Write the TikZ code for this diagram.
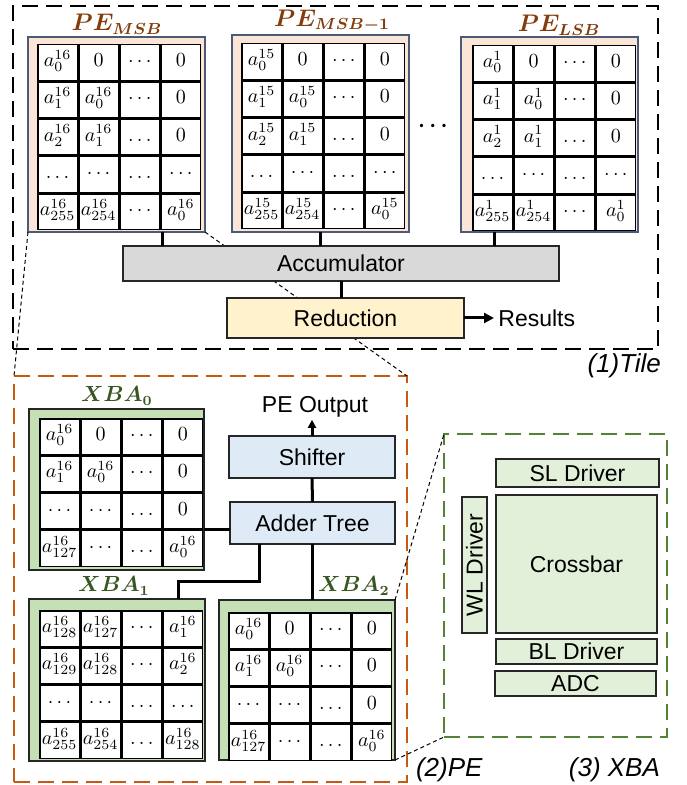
\documentclass[tikz,border=0pt]{standalone}
\usepackage{fontspec}
\setmainfont{Liberation Sans}
\usepackage{amsmath}
\usepackage{bm}
\usetikzlibrary{matrix,fit,calc,arrows.meta}

\definecolor{peFill}{HTML}{FBE5D6}
\definecolor{peLine}{HTML}{4A5A78}
\definecolor{xbaFill}{HTML}{C5E0B4}
\definecolor{accFill}{HTML}{D9D9D9}
\definecolor{redFill}{HTML}{FFF2CC}
\definecolor{blueFill}{HTML}{DEEBF7}
\definecolor{compFill}{HTML}{E2F0D9}
\definecolor{peOrange}{HTML}{C55A11}
\definecolor{xbaGreen}{HTML}{548235}
\definecolor{titleBrown}{HTML}{843C0C}
\definecolor{titleGreen}{HTML}{385723}

\begin{document}
\begin{tikzpicture}[x=0.5pt,y=-0.5pt,
    gridcell/.style={draw,line width=0.75pt,fill=white,minimum width=19.8pt,minimum height=17.9pt,
      text height=6pt,text depth=2pt,inner sep=0pt,outer sep=0pt,anchor=center,
      font=\fontsize{9.8}{11}\selectfont},
    cellgrid/.style={matrix of math nodes,nodes={gridcell},column sep=0pt,row sep=0pt,
      inner sep=0pt,outer sep=0pt,anchor=north west},
    pebox/.style={draw=peLine,line width=0.8pt,fill=peFill,inner sep=0pt,outer sep=0pt},
    xbabox/.style={draw=black!85,line width=1pt,fill=xbaFill,inner sep=0pt,outer sep=0pt},
    unitbox/.style={draw=black!85,line width=0.8pt,inner sep=0pt,outer sep=0pt,
      font=\fontsize{11.5}{12}\selectfont},
    zoneframe/.style={line width=1.2pt,dash pattern=on 8pt off 4pt,inner sep=0pt,outer sep=0pt},
    zoomline/.style={line width=0.5pt,dash pattern=on 2pt off 1.5pt},
    conn/.style={line width=1.5pt},
    petitle/.style={text=titleBrown,font=\fontsize{12}{13}\selectfont},
    xbatitle/.style={text=titleGreen,font=\fontsize{10.5}{12}\selectfont},
    zonecaption/.style={font=\fontsize{13}{14}\selectfont\itshape}]

    \useasboundingbox (0,0) rectangle (686,785);

    % Zones
    \node (tile) [zoneframe,draw=black,fit={(13,6) (658,349)}] {};
    \node (pe zone) [zoneframe,draw=peOrange,fit={(14,376) (407,782)}] {};
    \node (xba zone) [zoneframe,draw=xbaGreen,fit={(444,434) (667,737)}] {};

    % PE arrays of the tile
    \node (msb box) [pebox,fit={(28,37) (205,232)}] {};
    \matrix (msb) [cellgrid] at (37,44) {
      a_0^{16} & 0 & \cdots & 0 \\
      a_1^{16} & a_0^{16} & \cdots & 0 \\
      a_2^{16} & a_1^{16} & \ldots & 0 \\
      \ldots & \cdots & \ldots & \cdots \\
      a_{255}^{16} & a_{254}^{16} & \cdots & a_0^{16} \\
    };
    \node (msb title) [petitle] at (117,24) {$\bm{PE_{MSB}}$};

    \node (msb1 box) [pebox,fit={(232,35) (409,232)}] {};
    \matrix (msb1) [cellgrid] at (241,43) {
      a_0^{15} & 0 & \cdots & 0 \\
      a_1^{15} & a_0^{15} & \cdots & 0 \\
      a_2^{15} & a_1^{15} & \ldots & 0 \\
      \ldots & \cdots & \ldots & \cdots \\
      a_{255}^{15} & a_{254}^{15} & \cdots & a_0^{15} \\
    };
    \node (msb1 title) [petitle] at (332,21) {$\bm{PE_{MSB-1}}$};

    \node (lsb box) [pebox,fit={(461,37) (638,232)}] {};
    \matrix (lsb) [cellgrid] at (472,45) {
      a_0^{1} & 0 & \cdots & 0 \\
      a_1^{1} & a_0^{1} & \cdots & 0 \\
      a_2^{1} & a_1^{1} & \ldots & 0 \\
      \ldots & \cdots & \ldots & \cdots \\
      a_{255}^{1} & a_{254}^{1} & \cdots & a_0^{1} \\
    };
    \node (lsb title) [petitle] at (559,25) {$\bm{PE_{LSB}}$};

    \node (pe dots) [font=\fontsize{11}{12}\selectfont] at (435,126) {$\bm{\cdots}$};

    % Crossbar arrays of the PE
    \node (xba0 box) [xbabox,fit={(29,409) (204,570)}] {};
    \matrix (xba0) [cellgrid] at (39,418) {
      a_0^{16} & 0 & \cdots & 0 \\
      a_1^{16} & a_0^{16} & \cdots & 0 \\
      \cdots & \cdots & \ldots & 0 \\
      a_{127}^{16} & \cdots & \ldots & a_0^{16} \\
    };
    \node (xba0 title) [xbatitle] at (117,396) {$\bm{XBA_0}$};

    \node (xba1 box) [xbabox,fit={(29,599) (205,761)}] {};
    \matrix (xba1) [cellgrid] at (39,610) {
      a_{128}^{16} & a_{127}^{16} & \cdots & a_1^{16} \\
      a_{129}^{16} & a_{128}^{16} & \cdots & a_2^{16} \\
      \cdots & \cdots & \ldots & \ldots \\
      a_{255}^{16} & a_{254}^{16} & \ldots & a_{128}^{16} \\
    };
    \node (xba1 title) [xbatitle] at (114,586) {$\bm{XBA_1}$};

    \node (xba2 box) [xbabox,fit={(219,600) (395,760)}] {};
    \matrix (xba2) [cellgrid] at (228,612) {
      a_0^{16} & 0 & \cdots & 0 \\
      a_1^{16} & a_0^{16} & \cdots & 0 \\
      \cdots & \cdots & \ldots & 0 \\
      a_{127}^{16} & \cdots & \ldots & a_0^{16} \\
    };
    \node (xba2 title) [xbatitle] at (354,586) {$\bm{XBA_2}$};

    % Zoom lines (behind the blocks)
    \draw[zoomline] (msb box.south west) -- (pe zone.north west);
    \draw[zoomline] (msb box.south east) -- (pe zone.north east);
    \draw[zoomline] (xba2 box.north east) -- (xba zone.north west);
    \draw[zoomline] (xba2 box.south east) -- (xba zone.south west);

    % Tile blocks
    \node (acc) [unitbox,fill=accFill,minimum width=218pt,minimum height=17.5pt] at (341,263.5) {Accumulator};
    \node (red) [unitbox,fill=redFill,minimum width=118.5pt,minimum height=20pt] at (345.5,318) {Reduction};
    \node (results) [anchor=west,inner sep=2pt,font=\fontsize{11.5}{12}\selectfont] at (494,318) {Results};

    % PE blocks
    \node (shifter) [unitbox,fill=blueFill,minimum width=83pt,minimum height=21pt] at (312,457) {Shifter};
    \node (adder) [unitbox,fill=blueFill,minimum width=82.5pt,minimum height=21pt] at (312.5,523) {Adder Tree};
    \node (pe out) [font=\fontsize{11.5}{12}\selectfont,inner sep=1pt] at (315,407) {PE Output};

    % XBA blocks
    \node (sl) [unitbox,fill=compFill,minimum width=81.5pt,minimum height=14pt] at (577.5,473) {SL Driver};
    \node (crossbar) [unitbox,fill=compFill,minimum width=80.5pt,minimum height=69pt] at (576.5,564) {Crossbar};
    \node (wl) [unitbox,fill=compFill,rotate=90,minimum width=68pt,minimum height=12.5pt] at (474.5,565) {WL Driver};
    \node (bl) [unitbox,fill=compFill,minimum width=80.5pt,minimum height=12.5pt] at (576.5,651.5) {BL Driver};
    \node (adc) [unitbox,fill=compFill,minimum width=80.5pt,minimum height=12.5pt] at (575.5,683.5) {ADC};

    % Connectors
    \draw[conn] ($(msb box.south west)!.76!(msb box.south east)$) coordinate (m1) -- (m1 |- acc.north);
    \draw[conn] (msb1 box.south) -- (msb1 box.south |- acc.north);
    \draw[conn] ($(lsb box.south west)!.19!(lsb box.south east)$) coordinate (l1) -- (l1 |- acc.north);
    \draw[conn] (acc.south) -- (acc.south |- red.north);
    \draw[conn,-{Triangle[length=5pt,width=5pt]}] (red.east) -- (results.west);
    \draw[conn,-{Triangle[length=4pt,width=4pt]}] (shifter.north) -- (shifter.north |- pe out.south);
    \draw[conn] (adder.north) -- (shifter.south);
    \draw[conn] ([yshift=-3pt]adder.west) -- ([yshift=-3pt]adder.west -| xba0 box.east);
    \draw[conn] ([xshift=-26.75pt]adder.south) -- ++(0,37) -| ([xshift=30.5pt]xba1 box.north);
    \draw[conn] (adder.south) -- (adder.south |- xba2 box.north);

    % Zone captions
    \node (tile cap) [zonecaption,anchor=east] at (668,366) {(1)Tile};
    \node (pe cap) [zonecaption,anchor=west] at (409,770) {(2)PE};
    \node (xba cap) [zonecaption,anchor=east] at (667,770) {(3) XBA};
\end{tikzpicture}
\end{document}
